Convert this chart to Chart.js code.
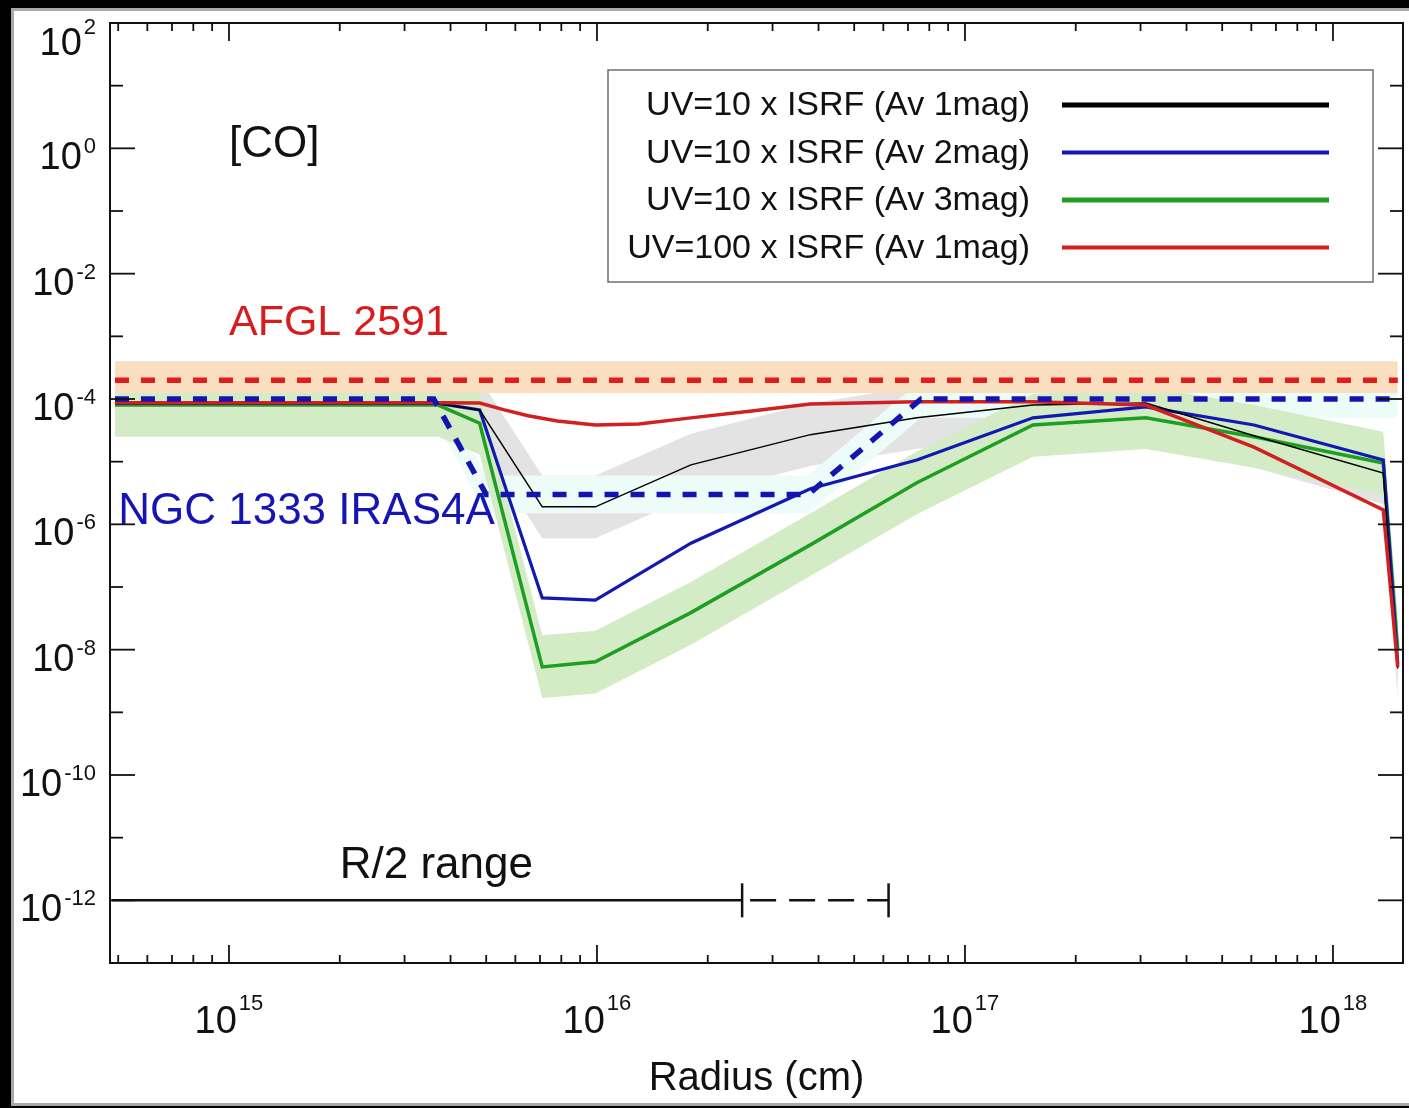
<!DOCTYPE html>
<html>
<head>
<meta charset="utf-8">
<script src="https://cdn.jsdelivr.net/npm/chart.js@4.4.1/dist/chart.umd.min.js"></script>
<style>
  html, body { margin: 0; padding: 0; background: #000; width: 1409px; height: 1108px; overflow: hidden; }
  #panel { position: absolute; left: 11px; top: 8px; width: 1398px; height: 1098px; background: #fff;
           border-left: 3px solid #a9a9a9; border-top: 3px solid #a9a9a9; border-bottom: 3px solid #a9a9a9; box-sizing: border-box; }
  canvas { position: absolute; left: 0; top: 0; }
</style>
</head>
<body>
<div id="panel"></div>
<canvas id="co" width="1409" height="1108"></canvas>
<script>
// Model radius grid (cm)
const radius = [4.9e14, 3.7e15, 4.8e15, 7.1e15, 9.9e15, 1.8e16, 3.8e16, 7.4e16, 1.53e17, 3.1e17, 6.1e17, 1.37e18, 1.5e18];

// CO abundance profiles
const coUv10Av1  = [8.5e-5, 8.5e-5, 6.7e-5, 1.9e-6, 1.9e-6, 8.9e-6, 2.7e-5, 5.0e-5, 8.0e-5, 8.6e-5, 2.6e-5, 6.6e-6, 5.0e-9];
const coUv10Av2  = [8.5e-5, 8.5e-5, 6.7e-5, 6.7e-8, 6.2e-8, 5.0e-7, 3.7e-6, 1.06e-5, 5.0e-5, 7.5e-5, 3.85e-5, 1.06e-5, 6.0e-9];
const coUv10Av3  = [8.0e-5, 8.0e-5, 4.1e-5, 5.3e-9, 6.4e-9, 3.9e-8, 4.7e-7, 4.6e-6, 3.85e-5, 5.0e-5, 2.5e-5, 9.5e-6, 1.0e-8];

// The UV=100 profile is sampled more finely through its shallow dip
const radiusUv100 = [4.9e14, 3.7e15, 4.8e15, 5.6e15, 6.5e15, 7.8e15, 9.9e15, 1.3e16, 1.8e16, 2.6e16, 3.8e16, 7.4e16, 1.53e17, 3.1e17, 6.1e17, 1.37e18, 1.5e18];
const coUv100Av1  = [8.7e-5, 8.7e-5, 8.65e-5, 6.7e-5, 5.4e-5, 4.45e-5, 3.85e-5, 4.0e-5, 5.0e-5, 6.4e-5, 8.3e-5, 9.0e-5, 9.0e-5, 8.0e-5, 1.7e-5, 1.7e-6, 5.3e-9];

// Spread envelopes around the Av 1 and Av 3 profiles
const av1Upper = [2.7e-4, 2.7e-4, 2.1e-4, 6.0e-6, 6.0e-6, 2.8e-5, 8.5e-5, 1.6e-4, 2.5e-4, 2.7e-4, 8.1e-5, 2.1e-5, 1.6e-8];
const av1Lower = [2.7e-5, 2.7e-5, 2.1e-5, 6.0e-7, 6.0e-7, 2.8e-6, 8.5e-6, 1.6e-5, 2.5e-5, 2.7e-5, 8.1e-6, 2.1e-6, 1.6e-9];
const av3Upper = [2.5e-4, 2.5e-4, 1.3e-4, 1.7e-8, 2.0e-8, 1.2e-7, 1.5e-6, 1.45e-5, 1.2e-4, 1.6e-4, 8.0e-5, 3.0e-5, 3.2e-8];
const av3Lower = [2.5e-5, 2.5e-5, 1.3e-5, 1.7e-9, 2.0e-9, 1.2e-8, 1.5e-7, 1.45e-6, 1.2e-5, 1.6e-5, 8.0e-6, 3.0e-6, 3.2e-9];

// Observed abundances: NGC 1333 IRAS4A (jump profile) and AFGL 2591 (constant)
const ngcRadius = [4.9e14, 3.6e15, 5.0e15, 3.75e16, 7.6e16, 1.5e18];
const ngcValue  = [1.0e-4, 1.0e-4, 3.0e-6, 3.0e-6, 1.0e-4, 1.0e-4];
const ngcUpper  = [2.0e-4, 2.0e-4, 6.0e-6, 6.0e-6, 2.0e-4, 2.0e-4];
const ngcLower  = [5.0e-5, 5.0e-5, 1.5e-6, 1.5e-6, 5.0e-5, 5.0e-5];
const afglRadius = [4.9e14, 1.5e18];
const afglValue  = [2.0e-4, 2.0e-4];
const afglUpper  = [4.0e-4, 4.0e-4];
const afglLower  = [1.25e-4, 1.25e-4];

// R/2 range marker
const halfRangeSolid  = [4.8e14, 2.48e16];
const halfRangeDashed = [2.48e16, 6.2e16];
const halfRangeLevel  = [1e-12, 1e-12];

// Axis decades
const xDecades = [15, 16, 17, 18];
const yDecades = [2, 0, -2, -4, -6, -8, -10, -12];

const pts = (xs, ys) => xs.map((v, i) => ({ x: v, y: ys[i] }));
const FONT = '"Liberation Sans", Arial, Helvetica, sans-serif';

const RED = '#d21f1f', BLUE = '#1219b2', GREEN = '#1e9e22', BLACK = '#000000';

function band(data, color, fill) {
  return { data, borderColor: 'rgba(0,0,0,0)', borderWidth: 0, backgroundColor: color,
           pointRadius: 0, fill: fill ? '+1' : false, tension: 0 };
}

const datasets = [
  { label: 'AFGL 2591', data: pts(afglRadius, afglValue), borderColor: '#e21b1b', borderWidth: 5.5, borderDash: [14, 12], pointRadius: 0, fill: false },
  { label: 'NGC 1333 IRAS4A', data: pts(ngcRadius, ngcValue), borderColor: '#1414b0', borderWidth: 5.5, borderDash: [14, 12], pointRadius: 0, fill: false },
  { label: 'UV=100 x ISRF (Av 1mag)', data: pts(radiusUv100, coUv100Av1), borderColor: RED, borderWidth: 3.5, pointRadius: 0, fill: false, legendWidth: 4 },
  { label: 'UV=10 x ISRF (Av 1mag)', data: pts(radius, coUv10Av1), borderColor: BLACK, borderWidth: 1.5, pointRadius: 0, fill: false, legendWidth: 5 },
  { label: 'UV=10 x ISRF (Av 2mag)', data: pts(radius, coUv10Av2), borderColor: BLUE, borderWidth: 3.2, pointRadius: 0, fill: false, legendWidth: 4 },
  { label: 'UV=10 x ISRF (Av 3mag)', data: pts(radius, coUv10Av3), borderColor: GREEN, borderWidth: 3.5, pointRadius: 0, fill: false, legendWidth: 5 },
  { label: 'R/2', data: pts(halfRangeSolid, halfRangeLevel), borderColor: '#111', borderWidth: 2.5, fill: false,
    pointStyle: 'line', rotation: 90, pointRadius: [0, 17], pointBorderWidth: 2.5, pointBorderColor: '#111' },
  { label: 'R/2 ext', data: pts(halfRangeDashed, halfRangeLevel), borderColor: '#111', borderWidth: 2.5, borderDash: [26, 13], borderDashOffset: -8, fill: false,
    pointStyle: 'line', rotation: 90, pointRadius: [0, 17], pointBorderWidth: 2.5, pointBorderColor: '#111' },
  band(pts(afglRadius, afglUpper), '#f9dfc0', true),
  band(pts(afglRadius, afglLower), 'rgba(0,0,0,0)', false),
  band(pts(radius, av3Upper), '#d3ecc6', true),
  band(pts(radius, av3Lower), 'rgba(0,0,0,0)', false),
  band(pts(ngcRadius, ngcUpper), '#edfcf8', true),
  band(pts(ngcRadius, ngcLower), 'rgba(0,0,0,0)', false),
  band(pts(radius, av1Upper), '#e3e3e3', true),
  band(pts(radius, av1Lower), 'rgba(0,0,0,0)', false)
];

// Labels written inside the plot, anchored in data coordinates
const notes = [
  { text: '[CO]', x: 1.0e15, y: 0.72, color: '#111', size: 44 },
  { text: 'AFGL 2591', x: 1.0e15, y: 1.05e-3, color: '#d81c1c', size: 43 },
  { text: 'NGC 1333 IRAS4A', x: 5.0e14, y: 1.0e-6, color: '#1515b4', size: 44 },
  { text: 'R/2 range', x: 2.0e15, y: 2.3e-12, color: '#111', size: 44 }
];

function powerLabel(ctx, exp, x, baseY, supY, align) {
  const base = '10', sup = String(exp);
  ctx.font = '38px ' + FONT;
  const wb = ctx.measureText(base).width;
  ctx.font = '22px ' + FONT;
  const ws = ctx.measureText(sup).width;
  const total = wb + 2 + ws;
  let x0 = align === 'right' ? x - total : x - total / 2;
  ctx.textAlign = 'left';
  ctx.textBaseline = 'alphabetic';
  ctx.font = '38px ' + FONT;
  ctx.fillText(base, x0, baseY);
  ctx.font = '22px ' + FONT;
  ctx.fillText(sup, x0 + wb + 2, supY);
}

const framePlugin = {
  id: 'frame',
  afterDatasetsDraw(chart) {
    const { ctx, chartArea: a, scales: { x, y } } = chart;
    ctx.save();

    // in-plot labels
    notes.forEach(n => {
      ctx.font = n.size + 'px ' + FONT;
      ctx.fillStyle = n.color;
      ctx.textAlign = 'left';
      ctx.textBaseline = 'alphabetic';
      ctx.fillText(n.text, x.getPixelForValue(n.x), y.getPixelForValue(n.y));
    });

    // axes box
    ctx.strokeStyle = '#111';
    ctx.lineWidth = 2;
    ctx.strokeRect(a.left, a.top, a.right - a.left, a.bottom - a.top);

    const seg = (x1, y1, x2, y2) => { ctx.beginPath(); ctx.moveTo(x1, y1); ctx.lineTo(x2, y2); ctx.stroke(); };

    // y ticks: every decade, labelled on even ones
    ctx.lineWidth = 1.8;
    for (let e = -12; e <= 1; e++) {
      const py = y.getPixelForValue(Math.pow(10, e));
      const len = e % 2 === 0 ? 25 : 13;
      seg(a.left, py, a.left + len, py);
      seg(a.right, py, a.right - len, py);
    }
    // x ticks
    for (let d = 14; d <= 18; d++) {
      for (let k = 1; k <= 9; k++) {
        const v = k * Math.pow(10, d);
        if (v <= x.min || v >= x.max) continue;
        const px = x.getPixelForValue(v);
        const len = k === 1 ? 18 : 8;
        seg(px, a.bottom, px, a.bottom - len);
        seg(px, a.top, px, a.top + len);
      }
    }

    // tick labels
    ctx.fillStyle = '#111';
    yDecades.forEach(e => {
      const py = y.getPixelForValue(Math.pow(10, e));
      let base = py + 21, sup = py + 5;
      if (base < 55) { base = 55; sup = 34; }
      powerLabel(ctx, e, 96, base, sup, 'right');
    });
    xDecades.forEach(d => {
      const px = x.getPixelForValue(Math.pow(10, d));
      powerLabel(ctx, d, px, a.bottom + 70, a.bottom + 47, 'center');
    });

    // axis title
    ctx.font = '40px ' + FONT;
    ctx.textAlign = 'center';
    ctx.textBaseline = 'alphabetic';
    ctx.fillText('Radius (cm)', (a.left + a.right) / 2, a.bottom + 127);

    // legend
    const box = { left: 608, top: 70, right: 1373, bottom: 282 };
    ctx.fillStyle = '#fff';
    ctx.fillRect(box.left, box.top, box.right - box.left, box.bottom - box.top);
    ctx.strokeStyle = '#6f6f6f';
    ctx.lineWidth = 1.5;
    ctx.strokeRect(box.left, box.top, box.right - box.left, box.bottom - box.top);
    const order = [3, 4, 5, 2];
    order.forEach((idx, i) => {
      const ds = chart.data.datasets[idx];
      const ly = 105 + i * 47.5;
      ctx.font = '34px ' + FONT;
      ctx.fillStyle = '#111';
      ctx.textAlign = 'right';
      ctx.textBaseline = 'middle';
      ctx.fillText(ds.label, 1030, ly + 1);
      ctx.strokeStyle = ds.borderColor;
      ctx.lineWidth = ds.legendWidth;
      seg(1062, ly, 1329, ly);
    });

    ctx.restore();
  }
};

new Chart(document.getElementById('co'), {
  type: 'line',
  data: { datasets },
  options: {
    responsive: false,
    animation: false,
    events: [],
    layout: { autoPadding: false, padding: { left: 110, top: 23, right: 6, bottom: 145 } },
    plugins: { legend: { display: false }, tooltip: { enabled: false } },
    scales: {
      x: { type: 'logarithmic', min: 4.75e14, max: 1.55e18, display: false },
      y: { type: 'logarithmic', min: 1e-13, max: 1e2, display: false }
    }
  },
  plugins: [framePlugin]
});
</script>
</body>
</html>
